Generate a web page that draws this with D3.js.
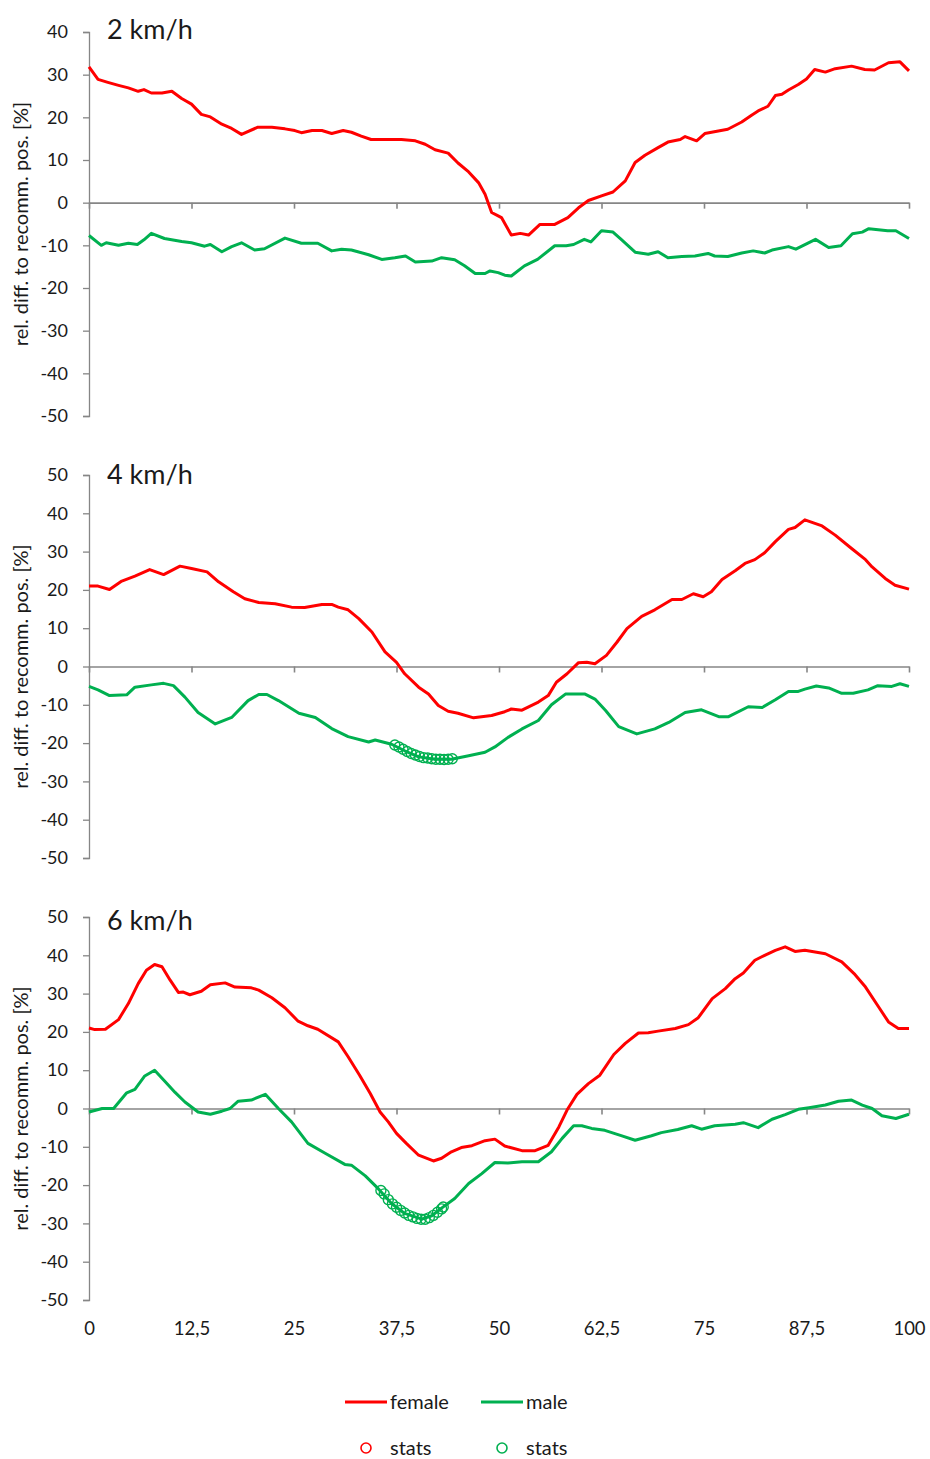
<!DOCTYPE html>
<html>
<head>
<meta charset="utf-8">
<script src="https://cdn.jsdelivr.net/npm/d3@7"></script>
<style>
  body { margin: 0; background: #fff; }
  svg text { font-family: Lato, "Open Sans", sans-serif; fill: #1a1a1a; }
</style>
</head>
<body>
<div id="chart-container"></div>
<script>
// x positions are % of cycle, values are rel. diff in %
var xTicks = [0, 12.5, 25, 37.5, 50, 62.5, 75, 87.5, 100];
var speeds = ["2 km/h", "4 km/h", "6 km/h"];
var seriesNames = ["female", "male"];

var female2 = [[0,31.8],[1.1,28.9],[2.3,28.2],[3.6,27.5],[4.8,26.9],[6.0,26.1],[6.7,26.5],[7.6,25.7],[8.9,25.7],[10.1,26.1],[11.3,24.4],[12.5,23.1],[13.7,20.7],[14.8,20.1],[16.2,18.4],[17.4,17.4],[18.6,16.0],[20.6,17.7],[22.3,17.7],[23.9,17.3],[25.1,16.9],[25.9,16.4],[27.2,16.9],[28.4,16.9],[29.6,16.2],[31.0,16.9],[32.0,16.5],[33.2,15.6],[34.4,14.8],[36.1,14.8],[38.1,14.8],[39.8,14.5],[41.0,13.7],[42.2,12.4],[43.8,11.6],[45.0,9.3],[46.3,7.2],[47.5,4.7],[48.3,2.0],[49.1,-2.3],[49.9,-3.1],[50.3,-3.5],[51.5,-7.6],[52.6,-7.2],[53.6,-7.6],[55.0,-5.1],[56.8,-5.1],[58.4,-3.5],[59.7,-1.2],[60.9,0.5],[62.5,1.6],[63.9,2.5],[65.4,5.1],[66.6,9.4],[67.8,11.1],[69.4,12.9],[70.6,14.2],[72.1,14.8],[72.7,15.5],[74.1,14.5],[75.1,16.2],[77.9,17.2],[79.6,18.9],[80.8,20.5],[81.6,21.5],[82.8,22.6],[83.7,25.1],[84.5,25.4],[85.3,26.4],[86.5,27.7],[87.5,29.0],[88.5,31.2],[89.8,30.6],[91.0,31.4],[93.0,32.0],[94.6,31.2],[95.8,31.1],[97.5,32.8],[98.9,33.0],[100,30.9]];
var male2 = [[0,-7.7],[1.5,-10.0],[2.1,-9.4],[3.6,-10.0],[4.8,-9.5],[5.9,-9.8],[6.7,-8.7],[7.6,-7.2],[9.2,-8.4],[11.3,-9.1],[12.5,-9.4],[14.1,-10.2],[14.8,-9.8],[16.2,-11.5],[17.4,-10.3],[18.6,-9.4],[20.2,-11.1],[21.4,-10.8],[23.9,-8.3],[25.9,-9.5],[27.9,-9.5],[29.6,-11.3],[30.8,-10.9],[32.0,-11.1],[34.1,-12.2],[35.7,-13.3],[37.3,-12.9],[38.6,-12.5],[39.8,-13.9],[41.8,-13.7],[43.0,-12.9],[44.6,-13.4],[45.8,-14.8],[47.1,-16.6],[48.3,-16.6],[48.9,-16.0],[49.9,-16.4],[50.7,-17.0],[51.5,-17.2],[53.1,-14.8],[54.7,-13.3],[56.8,-10.1],[58.2,-10.1],[59.1,-9.8],[60.4,-8.6],[61.2,-9.2],[62.5,-6.6],[63.9,-6.9],[64.9,-8.6],[66.6,-11.6],[68.2,-12.1],[69.4,-11.5],[70.6,-12.9],[72.3,-12.6],[73.9,-12.5],[75.5,-11.9],[76.3,-12.5],[77.9,-12.6],[79.6,-11.8],[81.0,-11.3],[82.4,-11.8],[83.3,-11.1],[85.3,-10.3],[86.2,-10.9],[88.6,-8.6],[90.2,-10.5],[91.7,-10.1],[93.1,-7.3],[94.3,-6.9],[95.1,-6.1],[97.4,-6.6],[98.4,-6.6],[100,-8.4]];

var female4 = [[0,21.0],[1.1,21.0],[2.5,20.1],[4.0,22.3],[5.6,23.6],[7.4,25.3],[9.1,24.0],[11.1,26.2],[12.5,25.6],[14.4,24.7],[15.8,22.1],[17.6,19.5],[19.0,17.7],[20.7,16.7],[22.7,16.4],[24.7,15.5],[26.3,15.4],[28.4,16.2],[29.6,16.2],[30.4,15.5],[31.6,14.8],[32.9,12.5],[34.5,9.0],[36.1,3.8],[37.5,1.1],[38.5,-1.9],[40.2,-5.4],[41.4,-7.2],[42.6,-10.2],[43.8,-11.7],[45.0,-12.2],[46.9,-13.4],[49.1,-12.8],[50.7,-11.8],[51.5,-11.1],[52.8,-11.4],[54.8,-9.3],[56.0,-7.6],[57.0,-4.1],[58.3,-1.9],[59.7,1.0],[60.7,1.1],[61.7,0.7],[63.1,2.9],[64.4,6.4],[65.6,9.9],[67.4,13.1],[69.0,14.8],[71.1,17.5],[72.3,17.5],[73.7,19.0],[74.9,18.2],[75.9,19.5],[77.2,22.7],[78.8,25.0],[80.0,26.9],[81.2,27.9],[82.4,29.7],[83.7,32.6],[85.3,35.8],[86.1,36.3],[87.3,38.3],[89.4,36.7],[91.0,34.3],[93.0,30.8],[94.7,27.9],[95.5,26.0],[97.1,23.0],[98.3,21.2],[100,20.2]];
var male4 = [[0,-5.2],[1.1,-6.1],[2.5,-7.6],[4.6,-7.4],[5.6,-5.4],[7.6,-4.8],[9.1,-4.4],[10.3,-5.0],[11.7,-8.0],[13.3,-12.0],[15.4,-15.0],[17.4,-13.3],[19.4,-8.9],[20.7,-7.3],[21.7,-7.3],[23.1,-8.9],[25.6,-12.2],[27.6,-13.3],[29.6,-16.2],[31.6,-18.3],[34.1,-19.7],[34.9,-19.2],[36.9,-20.3],[38.5,-22.0],[40.2,-23.6],[42.2,-24.2],[44.2,-24.2],[46.3,-23.3],[48.3,-22.4],[49.5,-21.0],[51.1,-18.5],[52.8,-16.3],[54.8,-14.1],[56.4,-10.0],[58.1,-7.2],[60.5,-7.2],[61.7,-8.5],[63.0,-11.5],[64.6,-15.7],[66.8,-17.6],[69.0,-16.3],[70.7,-14.6],[72.7,-12.0],[74.7,-11.3],[76.8,-13.1],[78.0,-13.1],[80.4,-10.5],[82.1,-10.7],[83.7,-8.7],[85.3,-6.5],[86.5,-6.5],[87.3,-5.9],[88.7,-5.1],[90.2,-5.6],[91.8,-7.0],[93.2,-7.0],[95.0,-6.1],[96.2,-5.0],[97.9,-5.2],[98.9,-4.5],[100,-5.2]];
var maleStats4 = [[37.3,-20.5],[37.8,-21.0],[38.3,-21.6],[38.8,-22.2],[39.3,-22.7],[39.8,-23.1],[40.3,-23.5],[40.8,-23.8],[41.3,-23.9],[41.8,-24.1],[42.3,-24.2],[42.8,-24.2],[43.3,-24.3],[43.8,-24.2],[44.3,-24.1]];

var female6 = [[0,21.0],[0.7,20.6],[2.0,20.7],[3.6,23.2],[4.8,27.4],[6.0,32.6],[7.0,36.1],[8.0,37.6],[8.9,37.0],[9.9,33.5],[10.9,30.3],[11.5,30.4],[12.3,29.7],[13.7,30.6],[14.8,32.3],[16.6,32.8],[17.8,31.7],[19.8,31.5],[20.7,30.9],[22.3,28.9],[23.9,26.3],[25.5,22.8],[26.7,21.6],[27.9,20.7],[30.4,17.4],[31.6,13.5],[33.0,8.7],[34.3,3.9],[35.5,-0.9],[36.5,-3.5],[37.5,-6.5],[38.7,-9.1],[40.2,-12.2],[42.0,-13.7],[43.0,-13.0],[44.2,-11.3],[45.4,-10.2],[46.7,-9.7],[48.3,-8.4],[49.5,-8.0],[50.7,-9.8],[52.8,-11.0],[54.4,-11.0],[56.0,-9.6],[57.3,-4.8],[58.3,-0.4],[59.5,3.7],[60.9,6.5],[62.3,8.7],[64.0,14.1],[65.4,17.0],[67.0,19.7],[68.2,19.8],[69.4,20.2],[71.5,20.9],[73.1,21.9],[74.3,23.7],[76.0,28.7],[77.6,31.3],[78.8,33.9],[79.8,35.4],[81.2,38.7],[82.4,40.0],[83.7,41.3],[84.9,42.2],[86.1,41.0],[87.3,41.3],[89.8,40.4],[91.8,38.3],[93.4,35.0],[94.7,31.7],[96.3,26.5],[97.5,22.6],[98.7,20.9],[100,20.9]];
var male6 = [[0,-0.9],[1.6,0],[3.0,0],[4.6,4.1],[5.6,5.0],[6.8,8.5],[8.0,10.0],[9.3,7.0],[10.5,4.2],[11.7,1.7],[13.3,-0.9],[14.8,-1.5],[16.2,-0.7],[17.2,0],[18.2,1.9],[19.8,2.2],[21.5,3.7],[23.1,0],[24.7,-3.5],[26.7,-9.1],[28.8,-11.7],[31.2,-14.6],[32.0,-14.8],[33.7,-17.6],[35.3,-21.0],[36.9,-24.8],[38.5,-27.4],[40.6,-28.9],[41.8,-28.0],[43.2,-25.7],[44.6,-23.5],[46.3,-19.6],[47.9,-17.0],[49.5,-14.1],[51.1,-14.2],[52.8,-13.9],[54.8,-13.9],[56.4,-11.3],[57.7,-7.8],[59.1,-4.5],[60.1,-4.5],[61.3,-5.2],[62.9,-5.7],[64.9,-7.1],[66.6,-8.3],[68.6,-7.1],[69.8,-6.3],[71.8,-5.5],[73.5,-4.5],[74.7,-5.4],[76.3,-4.5],[78.8,-4.1],[79.8,-3.7],[81.6,-5.0],[83.3,-2.8],[84.9,-1.6],[86.5,-0.2],[87.8,0.2],[89.8,0.9],[91.4,1.9],[93.0,2.2],[94.3,0.9],[95.5,0],[96.7,-1.9],[98.4,-2.6],[100,-1.5]];
var maleStats6 = [[35.6,-21.4],[36.0,-22.3],[36.5,-23.8],[37.0,-24.9],[37.5,-25.8],[38.0,-26.6],[38.5,-27.3],[39.0,-27.9],[39.5,-28.3],[40.0,-28.7],[40.5,-28.9],[41.0,-28.9],[41.5,-28.5],[42.0,-27.9],[42.5,-27.1],[43.0,-26.2],[43.2,-25.7]];

var yDomains = [[-50, 40], [-50, 50], [-50, 50]];

var red = "#ff0000", green = "#00b050", axisGrey = "#868686";

var svg = d3.select("#chart-container").append("svg")
    .attr("width", 930)
    .attr("height", 1459);

var xScale = d3.scaleLinear().domain([0, 100]).range([89, 909]);

var panels = [
  { title: speeds[0], domain: yDomains[0], top: 32, bottom: 416, titleDy: 7, female: female2, male: male2, stats: [] },
  { title: speeds[1], domain: yDomains[1], top: 475, bottom: 858, titleDy: 9, female: female4, male: male4, stats: maleStats4 },
  { title: speeds[2], domain: yDomains[2], top: 917, bottom: 1300, titleDy: 13, female: female6, male: male6, stats: maleStats6 }
];

panels.forEach(function(p, i) {
  var yScale = d3.scaleLinear().domain(p.domain).range([p.bottom, p.top]);
  var g = svg.append("g");

  // y axis
  var yAxis = g.append("g")
      .attr("transform", "translate(" + xScale(0) + ",0)")
      .call(d3.axisLeft(yScale)
        .tickValues(d3.range(p.domain[0], p.domain[1] + 1, 10))
        .tickSize(6).tickPadding(15).tickFormat(String));
  yAxis.selectAll("path, line").attr("stroke", axisGrey).attr("stroke-width", 1.3);
  yAxis.selectAll("text").style("font-size", "18px").attr("fill", "#1a1a1a");

  // zero line with ticks
  var zAxis = g.append("g")
      .attr("transform", "translate(0," + yScale(0) + ")")
      .call(d3.axisBottom(xScale).tickValues(xTicks).tickSize(6).tickSizeOuter(0).tickFormat(""));
  zAxis.selectAll("path, line").attr("stroke", axisGrey).attr("stroke-width", 1.6);

  // x labels only on last panel, at the bottom
  if (i === panels.length - 1) {
    var lAxis = g.append("g")
        .attr("transform", "translate(0," + (p.bottom + 19) + ")")
        .call(d3.axisBottom(xScale).tickValues(xTicks).tickSize(0)
          .tickFormat(function(d) { return String(d).replace(".", ","); }));
    lAxis.select(".domain").remove();
    lAxis.selectAll("text").style("font-size", "18.5px").attr("fill", "#1a1a1a");
  }

  var line = d3.line()
      .x(function(d) { return xScale(d[0]); })
      .y(function(d) { return yScale(d[1]); });

  g.append("path").datum(p.male)
      .attr("d", line).attr("fill", "none")
      .attr("stroke", green).attr("stroke-width", 3).attr("stroke-linejoin", "round");
  g.append("path").datum(p.female)
      .attr("d", line).attr("fill", "none")
      .attr("stroke", red).attr("stroke-width", 3).attr("stroke-linejoin", "round");

  g.selectAll(".stat").data(p.stats).enter().append("circle")
      .attr("cx", function(d) { return xScale(d[0]); })
      .attr("cy", function(d) { return yScale(d[1]); })
      .attr("r", 5)
      .attr("fill", "none")
      .attr("stroke", green).attr("stroke-width", 1.4);

  g.append("text")
      .attr("x", 107).attr("y", p.top + p.titleDy)
      .style("font-size", "27px")
      .text(p.title);

  g.append("text")
      .attr("transform", "translate(28," + ((p.top + p.bottom) / 2) + ") rotate(-90)")
      .attr("text-anchor", "middle")
      .style("font-size", "20px")
      .text("rel. diff. to recomm. pos. [%]");
});

// legend
var legend = svg.append("g");
var legendX = [345, 481];
seriesNames.forEach(function(name, i) {
  var col = i === 0 ? red : green;
  legend.append("line")
      .attr("x1", legendX[i]).attr("x2", legendX[i] + 42)
      .attr("y1", 1402).attr("y2", 1402)
      .attr("stroke", col).attr("stroke-width", 3);
  legend.append("text")
      .attr("x", legendX[i] + 45).attr("y", 1409)
      .style("font-size", "20px").text(name);
  legend.append("circle")
      .attr("cx", legendX[i] + 21).attr("cy", 1448).attr("r", 5)
      .attr("fill", "none").attr("stroke", col).attr("stroke-width", 1.6);
  legend.append("text")
      .attr("x", legendX[i] + 45).attr("y", 1455)
      .style("font-size", "20px").text("stats");
});
</script>
</body>
</html>
